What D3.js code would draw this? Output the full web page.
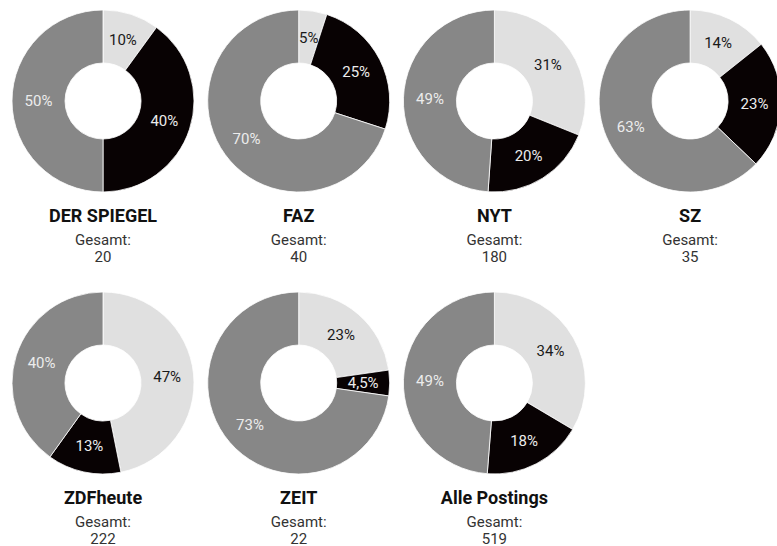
<!DOCTYPE html>
<html>
<head>
<meta charset="utf-8">
<script src="https://cdn.jsdelivr.net/npm/d3@7"></script>
<style>
  body { margin: 0; background: #fff; }
  svg { display: block; font-family: Roboto, "Noto Sans", sans-serif; }
</style>
</head>
<body>
<svg id="chart" width="777" height="546"></svg>
<script>
// Postings per outlet, three categories (clockwise from top)
const outlets = ['DER SPIEGEL', 'FAZ', 'NYT', 'SZ', 'ZDFheute', 'ZEIT', 'Alle Postings'];
const catA = [2, 2, 56, 5, 104, 5, 174];   // light
const catB = [8, 10, 36, 8, 29, 1, 92];    // black
const catC = [10, 28, 88, 22, 89, 16, 253]; // gray
const totals = [20, 40, 180, 35, 222, 22, 519];

const colors = ['#e0e0e0', '#080203', '#878787'];
const labelColors = ['#1a1a1a', '#ececec', '#ececec'];

const svg = d3.select('#chart');

const outerR = 91, innerR = 38;
const colStep = 195.7, rowStep = 282;
const x0 = 103, y0 = 101;

const pie = d3.pie().sort(null).value(d => d.v);
const arc = d3.arc().innerRadius(innerR).outerRadius(outerR);
const fmt = d3.formatLocale({ decimal: ',', thousands: '.', grouping: [3], currency: ['', '€'] }).format('.2~r');

outlets.forEach((name, i) => {
    const cx = x0 + (i % 4) * colStep;
    const cy = y0 + Math.floor(i / 4) * rowStep;
    const data = [
        { k: 0, v: catA[i] },
        { k: 1, v: catB[i] },
        { k: 2, v: catC[i] }
    ];
    const g = svg.append('g').attr('transform', `translate(${cx},${cy})`);

    const arcs = pie(data);
    g.selectAll('path')
        .data(arcs)
        .enter()
        .append('path')
        .attr('d', arc)
        .attr('fill', d => colors[d.data.k])
        .attr('stroke', '#fff')
        .attr('stroke-width', 0.8);

    g.selectAll('text.lbl')
        .data(arcs)
        .enter()
        .append('text')
        .attr('class', 'lbl')
        .attr('transform', d => `translate(${arc.centroid(d)})`)
        .attr('dy', '0.35em')
        .attr('text-anchor', 'middle')
        .attr('font-size', 15)
        .attr('fill', d => labelColors[d.data.k])
        .text(d => fmt(d.data.v / totals[i] * 100) + '%');

    g.append('text')
        .attr('y', 121)
        .attr('text-anchor', 'middle')
        .attr('font-size', 18)
        .attr('font-weight', 'bold')
        .attr('fill', '#111')
        .text(name);

    g.append('text')
        .attr('y', 144)
        .attr('text-anchor', 'middle')
        .attr('font-size', 15)
        .attr('fill', '#333')
        .text('Gesamt:');

    g.append('text')
        .attr('y', 161)
        .attr('text-anchor', 'middle')
        .attr('font-size', 15)
        .attr('fill', '#333')
        .text(totals[i]);
});
</script>
</body>
</html>
